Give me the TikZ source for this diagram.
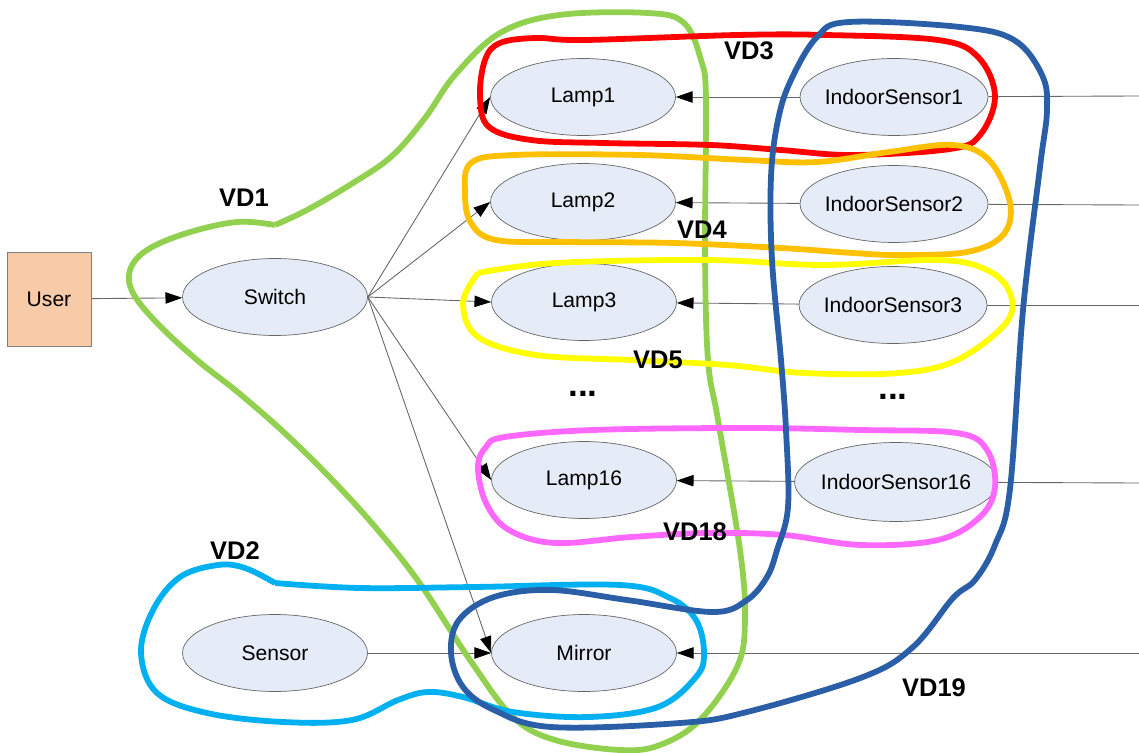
\documentclass[tikz,border=0pt]{standalone}
\usepackage{fontspec}
\setmainfont{Liberation Sans}
\usetikzlibrary{shapes,arrows.meta}

\definecolor{unitfill}{RGB}{230,236,247}
\definecolor{userfill}{RGB}{248,203,168}
\definecolor{vdgreen}{RGB}{146,208,80}
\definecolor{vdcyan}{RGB}{0,176,240}
\definecolor{vdred}{RGB}{255,0,0}
\definecolor{vdorange}{RGB}{255,192,0}
\definecolor{vdyellow}{RGB}{255,255,0}
\definecolor{vdpink}{RGB}{255,104,255}
\definecolor{vdblue}{RGB}{42,94,166}

\tikzset{
  unit/.style={ellipse, draw=black!60, fill=unitfill, inner sep=0pt, inner xsep=-3pt,
    minimum width=3.7cm, minimum height=1.54cm, font=\fontsize{12}{14}\selectfont},
  sensor/.style={unit, minimum width=3.76cm},
  link/.style={draw=black!60, line width=0.5pt},
  arr/.style={link, -{Triangle[length=9.5pt,width=6.5pt,black]}},
  vd/.style={line width=3.3pt, line join=round},
  vdlabel/.style={font=\fontsize{14.5}{17}\selectfont\bfseries},
  more/.style={anchor=base, font=\fontsize{20}{22}\selectfont\bfseries}
}

\begin{document}
\begin{tikzpicture}[x=0.02cm, y=-0.02cm]
\useasboundingbox (0,0) rectangle (1139,753);

\node[draw=black!50, fill=userfill, minimum width=1.68cm, minimum height=1.88cm,
  font=\fontsize{12}{14}\selectfont] (user) at (49,299) {User};
\node[unit] (switch) at (275,297) {Switch};
\node[unit] (lamp1) at (583,97) {Lamp1};
\node[unit] (lamp2) at (583,202) {Lamp2};
\node[unit] (lamp3) at (584,302) {Lamp3};
\node[unit] (lamp16) at (584,480) {Lamp16};
\node[sensor] (in1) at (894,97) {IndoorSensor1};
\node[sensor] (in2) at (894,204) {IndoorSensor2};
\node[sensor] (in3) at (893,305) {IndoorSensor3};
\node[sensor, minimum width=4.06cm, minimum height=1.58cm] (in16) at (896,482) {IndoorSensor16};
\node[unit] (sensor) at (275,653) {Sensor};
\node[unit] (mirror) at (584,653) {Mirror};

\node[more] (dotsl) at (583,396) {...};
\node[more] (dotsr) at (893,399) {...};

\coordinate (e1) at (1139,96);
\coordinate (e2) at (1139,205);
\coordinate (e3) at (1139,305);
\coordinate (e16) at (1139,483);
\coordinate (em) at (1139,653);

\draw[arr] (user) -- (switch);
\draw[arr] (switch.east) -- (lamp1.west);
\draw[arr] (switch.east) -- (lamp2.west);
\draw[arr] (switch.east) -- (lamp3.west);
\draw[arr] (switch.east) -- (lamp16.west);
\draw[arr] (switch.east) -- (mirror.west);
\draw[arr] (sensor) -- (mirror);
\draw[arr] (in1) -- (lamp1);
\draw[arr] (in2) -- (lamp2);
\draw[arr] (in3) -- (lamp3);
\draw[arr] (in16) -- (lamp16);
\draw[arr] (em) -- (mirror);
\draw[link] (e1) -- (in1);
\draw[link] (e2) -- (in2);
\draw[link] (e3) -- (in3);
\draw[link] (e16) -- (in16);

% hand-drawn groups
\draw[vd, vdgreen] plot[smooth, tension=0.6] coordinates {(275,225) (307,210) (353,183) (392,156)
  (425,118) (455,75) (500,33) (559,15) (648,13) (684,23) (701,60) (706,100) (705,250) (708,360)
  (718,420) (740,550) (745,620) (737,667) (700,720) (660,745) (620,750) (555,740) (513,717)
  (470,660) (421,585) (382,535) (340,488) (290,438) (240,394) (197,360) (157,323) (133,293)
  (130,270) (147,250) (187,233) (237,222) (275,225)};
\draw[vd, vdcyan] plot[smooth, tension=0.6] coordinates {(275,583) (245,568) (218,565) (180,577)
  (153,610) (141,653) (157,693) (207,713) (283,722) (352,720) (398,700) (428,692) (463,697)
  (513,712) (589,717) (658,707) (696,677) (704,653) (696,620) (670,598) (620,585) (474,587)
  (360,588) (275,583)};
\draw[vd, vdred] plot[smooth cycle, tension=0.6] coordinates {(485,60) (500,43) (536,38) (585,40)
  (737,35) (826,35) (938,40) (978,57) (995,96) (980,135) (950,149) (853,155) (781,150) (710,145)
  (603,143) (531,140) (489,127) (480,97)};
\draw[vd, vdorange] plot[smooth cycle, tension=0.6] coordinates {(471,163) (514,155) (639,155)
  (746,160) (817,162) (889,152) (953,145) (989,160) (1010,203) (1003,235) (967,252) (900,255)
  (853,253) (781,248) (674,243) (567,242) (496,240) (471,223) (465,193)};
\draw[vd, vdyellow] plot[smooth, tension=0.6] coordinates {(478,273) (555,263) (708,260) (823,265)
  (938,260) (987,270) (1010,293) (1006,323) (957,360) (899,373) (804,373) (727,365) (631,360)
  (536,355) (478,337) (463,303) (478,273)};
\draw[vd, vdpink] plot[smooth cycle, tension=0.6] coordinates {(505,437) (593,430) (746,428)
  (861,430) (957,433) (987,450) (995,487) (980,517) (938,540) (861,545) (784,535) (708,533)
  (631,537) (555,543) (509,530) (486,503) (478,467) (486,447)};
\draw[vd, vdblue] plot[smooth cycle, tension=0.6] coordinates {(849,22) (960,27) (1014,40)
  (1042,75) (1047,110) (1040,167) (1023,310) (1010,489) (995,545) (975,580) (953,598) (913,647)
  (863,677) (747,712) (680,723) (551,727) (494,710) (463,687) (451,653) (459,620) (494,597)
  (551,590) (627,600) (713,612) (747,600) (767,577) (777,550) (788,507) (786,430) (781,360)
  (772,260) (771,177) (778,120) (791,80) (817,37)};

\node[vdlabel] (vd1) at (244,198) {VD1};
\node[vdlabel] (vd2) at (235,551) {VD2};
\node[vdlabel] (vd3) at (749,51) {VD3};
\node[vdlabel] (vd4) at (702,230) {VD4};
\node[vdlabel] (vd5) at (658,360) {VD5};
\node[vdlabel] (vd18) at (695,532) {VD18};
\node[vdlabel] (vd19) at (934,688) {VD19};
\end{tikzpicture}
\end{document}
